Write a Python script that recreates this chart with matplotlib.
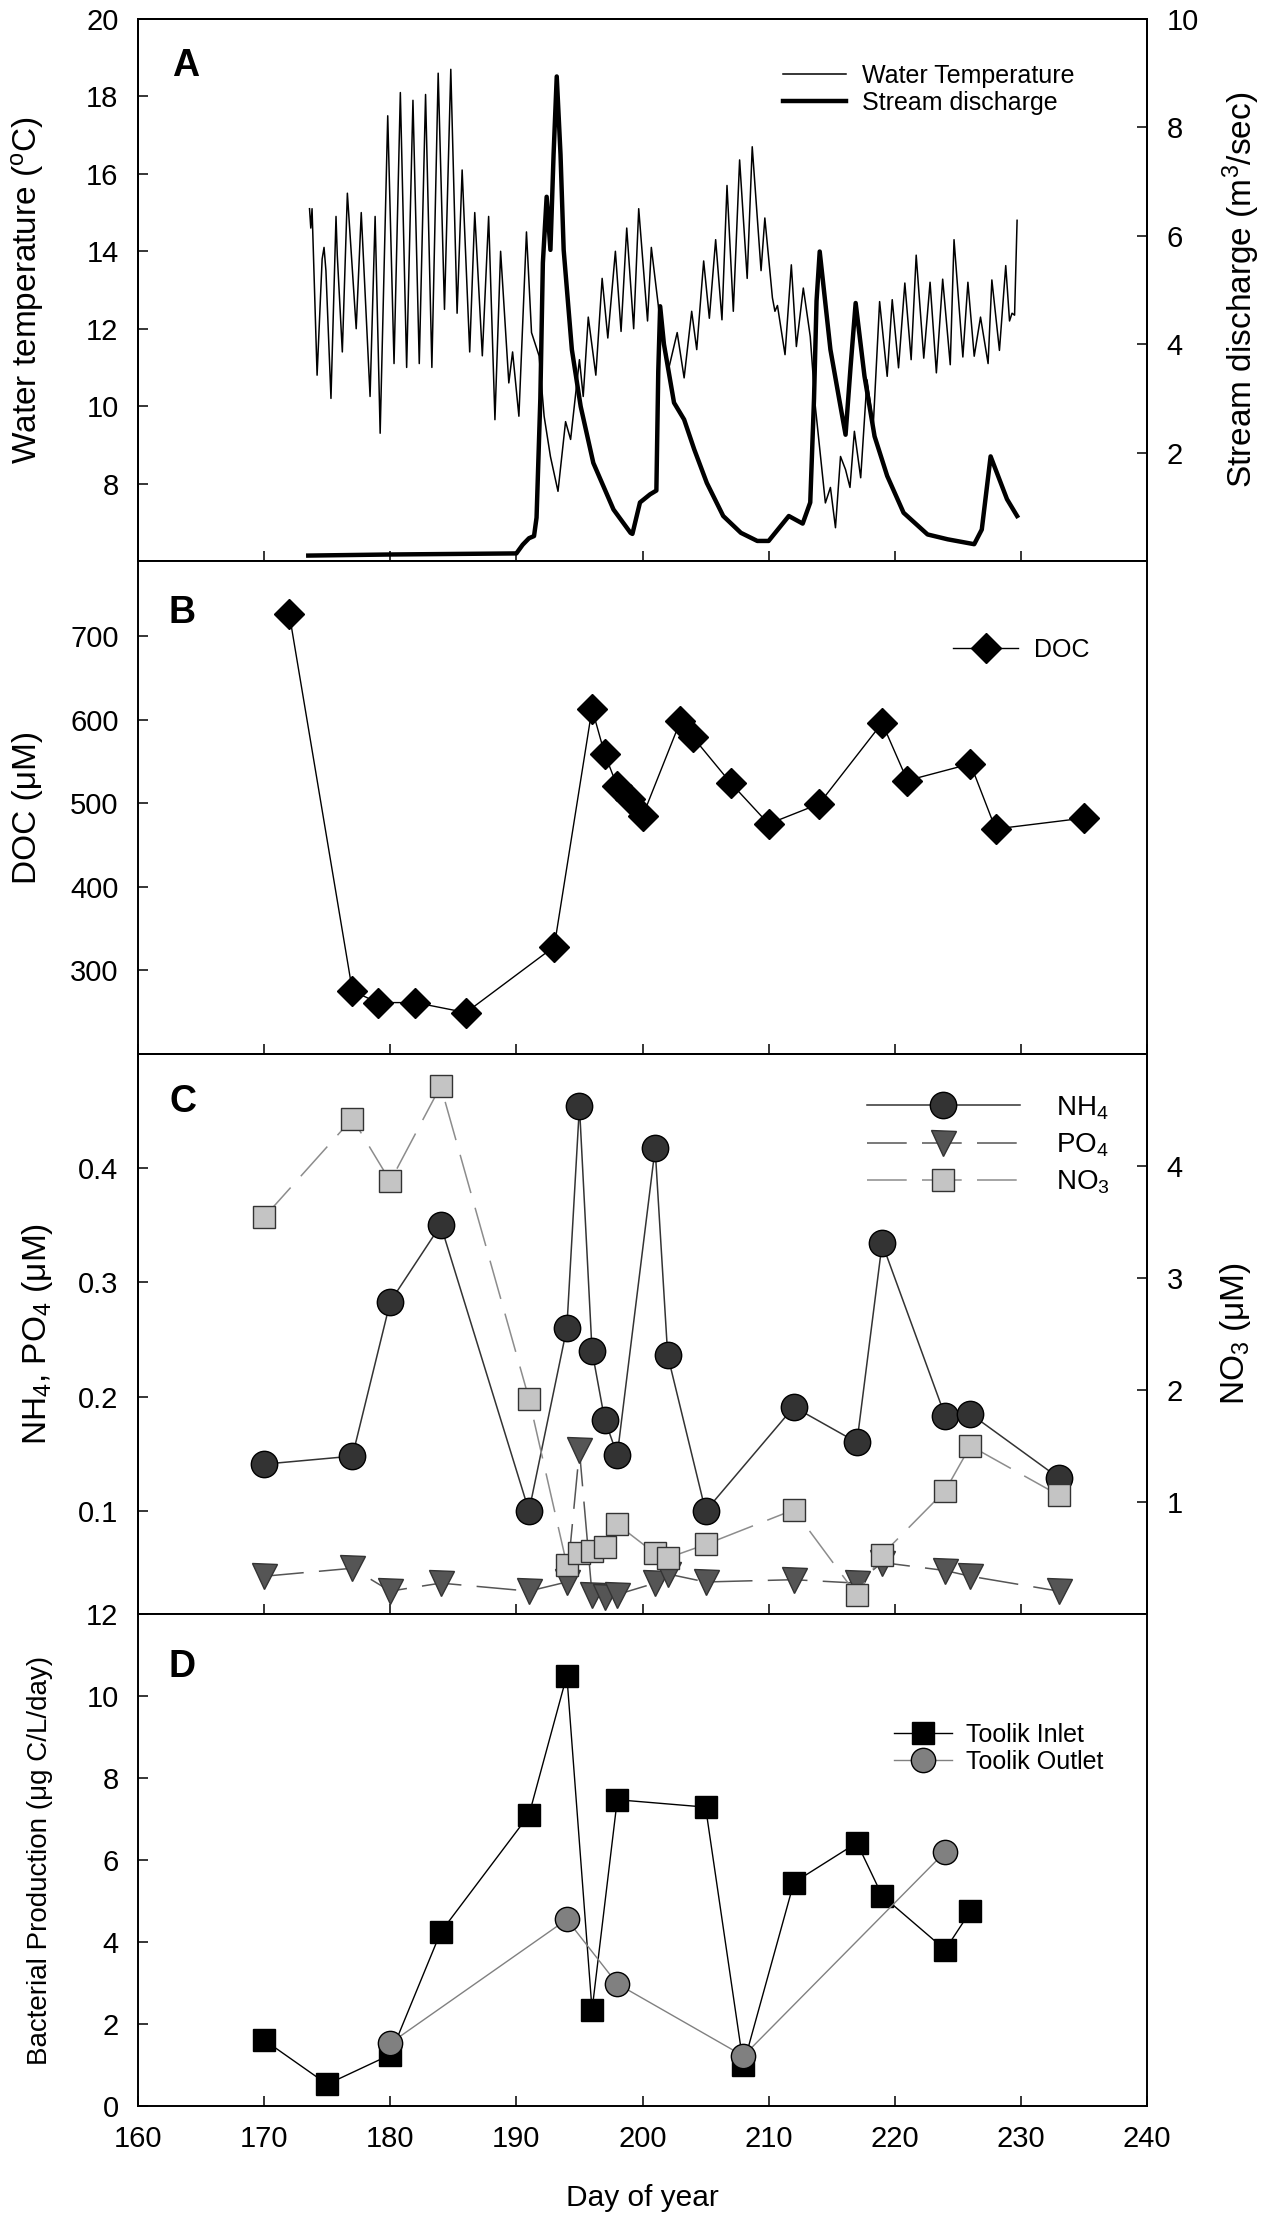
import numpy as np
import matplotlib
matplotlib.use('Agg')
import matplotlib.pyplot as plt

plt.rcParams['font.family'] = ['Liberation Sans', 'DejaVu Sans']
plt.rcParams['mathtext.fontset'] = 'custom'
plt.rcParams['mathtext.rm'] = 'Liberation Sans'
plt.rcParams['mathtext.it'] = 'Liberation Sans:italic'
plt.rcParams['mathtext.bf'] = 'Liberation Sans:bold'

# ---- panel A: water temperature (daily highs / lows) ----
temp_day = [173.6, 173.7, 173.8, 174.2, 174.6, 174.75, 174.9, 175.3, 175.7, 175.8,
            176.2, 176.6, 177.3, 177.7, 178.4, 178.8, 179.2, 179.8, 180.3, 180.8,
            181.3, 181.8, 182.3, 182.8, 183.3, 183.8, 184.3, 184.8, 185.3, 185.7,
            186.3, 186.7, 187.3, 187.8, 188.3, 188.75, 189.4, 189.7, 190.2, 190.8,
            191.2, 191.8, 192.2, 192.7, 193.3, 193.9, 194.3, 195.0, 195.3, 195.7,
            196.3, 196.8, 197.25, 197.85, 198.3, 198.75, 199.3, 199.7, 200.4, 200.7,
            201.4, 202.1, 202.75, 203.3, 203.9, 204.3, 204.85, 205.3, 205.8, 206.3,
            206.7, 207.2, 207.7, 208.3, 208.7, 209.4, 209.7, 210.3, 210.5, 210.7,
            211.3, 211.8, 212.2, 212.75, 212.95, 213.3, 213.7, 214.5, 214.9, 215.3,
            215.7, 216.1, 216.45, 216.8, 217.3, 217.8, 218.3, 218.8, 219.4, 219.8,
            220.3, 220.8, 221.3, 221.7, 222.3, 222.8, 223.3, 223.8, 224.4, 224.7,
            225.4, 225.8, 226.3, 226.8, 227.4, 227.7, 228.3, 228.8, 229.1, 229.3,
            229.5, 229.7]
temp_val = [15.1, 14.6, 15.1, 10.8, 13.8, 14.1, 13.5, 10.2, 14.9, 13.9,
            11.4, 15.5, 12.0, 15.0, 10.25, 14.9, 9.3, 17.5, 11.1, 18.1,
            11.0, 17.9, 11.1, 18.05, 11.0, 18.6, 12.5, 18.7, 12.4, 16.1,
            11.4, 15.0, 11.3, 14.9, 9.65, 14.0, 10.6, 11.4, 9.74, 14.5,
            11.9, 11.3, 9.74, 8.7, 7.8, 9.6, 9.14, 11.2, 10.25, 12.3,
            10.8, 13.3, 11.76, 14.0, 11.93, 14.6, 12.0, 15.1, 12.2, 14.1,
            12.2, 11.0, 11.9, 10.73, 12.45, 11.46, 13.75, 12.27, 14.3, 12.23,
            15.7, 12.45, 16.36, 13.3, 16.7, 13.5, 14.86, 12.8, 12.45, 12.6,
            11.33, 13.65, 11.54, 13.05, 12.6, 11.8, 10.0, 7.5, 7.9, 6.86,
            8.7, 8.36, 7.9, 9.35, 8.15, 10.68, 9.52, 12.7, 10.77, 12.75,
            10.99, 13.18, 11.2, 13.9, 11.24, 13.2, 10.86, 13.28, 11.07, 14.3,
            11.27, 13.2, 11.29, 12.3, 11.1, 13.26, 11.44, 13.63, 12.2, 12.4,
            12.35, 14.8]

# ---- panel A: stream discharge ----
q_day = [173.5, 180.0, 185.0, 190.0, 190.5, 191.0, 191.4, 191.6, 191.9, 192.1,
         192.4, 192.7, 192.95, 193.2, 193.5, 193.75, 194.4, 195.1, 196.1, 197.7,
         199.05, 199.2, 199.8, 200.6, 201.1, 201.25, 201.4, 201.7, 202.5, 203.3,
         204.1, 205.1, 206.4, 207.8, 209.1, 210.0, 210.8, 211.6, 212.7, 213.3,
         213.6, 213.8, 214.05, 214.9, 215.6, 216.1, 216.5, 216.9, 217.6, 218.4,
         219.4, 220.7, 222.6, 224.2, 226.3, 226.9, 227.6, 228.9, 229.7]
q_val = [0.10, 0.12, 0.13, 0.14, 0.30, 0.42, 0.46, 0.80, 3.0, 5.5,
         6.72, 5.74, 7.5, 8.94, 7.5, 5.74, 3.90, 2.85, 1.81, 0.95,
         0.52, 0.50, 1.08, 1.23, 1.30, 3.5, 4.70, 4.0, 2.92, 2.61,
         2.06, 1.44, 0.83, 0.52, 0.37, 0.37, 0.60, 0.83, 0.69, 1.08,
         3.0, 4.8, 5.71, 3.90, 2.98, 2.33, 3.59, 4.76, 3.41, 2.30,
         1.57, 0.89, 0.49, 0.40, 0.31, 0.58, 1.93, 1.14, 0.83]

# ---- panel B: DOC ----
doc_day = [172, 177, 179, 182, 186, 193, 196, 197, 198, 199, 200, 203, 204,
           207, 210, 214, 219, 221, 226, 228, 235]
doc_val = [726, 275, 261, 261, 249, 328, 613, 559, 520, 505, 484, 598, 579,
           524, 475, 499, 596, 527, 547, 469, 482]

# ---- panel C: nutrients ----
nut_day = [170, 177, 180, 184, 191, 194, 195, 196, 197, 198, 201, 202, 205,
           212, 217, 219, 224, 226, 233]
nh4 = [0.141, 0.148, 0.283, 0.350, 0.100, 0.260, 0.454, 0.240, 0.180, 0.149,
       0.417, 0.236, 0.100, 0.191, 0.160, 0.334, 0.183, 0.185, 0.129]
po4 = [0.043, 0.050, 0.030, 0.037, 0.030, 0.038, 0.153, 0.027, 0.025, 0.027,
       0.037, 0.045, 0.038, 0.040, 0.037, 0.055, 0.048, 0.043, 0.030]
no3 = [3.54, 4.42, 3.86, 4.71, 1.92, 0.44, 0.54, 0.56, 0.60, 0.80,
       0.54, 0.50, 0.62, 0.93, 0.17, 0.53, 1.10, 1.50, 1.06]

# ---- panel D: bacterial production ----
inlet_day = [170, 175, 180, 184, 191, 194, 196, 198, 205, 208, 212, 217, 219, 224, 226]
inlet_bp = [1.61, 0.53, 1.25, 4.24, 7.10, 10.5, 2.34, 7.47, 7.29, 1.0, 5.45, 6.42, 5.13, 3.81, 4.75]
outlet_day = [180, 194, 198, 208, 224]
outlet_bp = [1.53, 4.55, 2.98, 1.22, 6.20]

W, H = 1266, 2222
fig = plt.figure(figsize=(W / 100, H / 100), dpi=100)


def box(top, bottom):
    return [138 / W, 1 - bottom / H, (1147 - 138) / W, (bottom - top) / H]


def style(ax, labelbottom=False):
    ax.set_xlim(160, 240)
    ax.set_xticks(np.arange(160, 241, 10))
    ax.tick_params(direction='in', length=7, width=1.1, labelsize=21, pad=14)
    ax.tick_params(axis='x', labelbottom=labelbottom, top=False)
    for s in ax.spines.values():
        s.set_linewidth(1.4)


def fig_pt(x, y):
    return (x / W, 1 - y / H)


LAB = 24

# ---------------- A ----------------
axA = fig.add_axes(box(19, 561))
axA2 = axA.twinx()
style(axA)
style(axA2)
l1, = axA.plot(temp_day, temp_val, color='black', lw=1.1)
l2, = axA2.plot(q_day, q_val, color='black', lw=3.2)
axA.set_ylim(6, 20)
axA.set_yticks(np.arange(8, 21, 2))
axA2.set_ylim(0, 10)
axA2.set_yticks(np.arange(2, 11, 2))
axA.set_ylabel('Water temperature ($^{\\mathregular{o}}$C)', fontsize=LAB, va='center')
axA.yaxis.set_label_coords(-0.11, 0.5)
axA2.set_ylabel('Stream discharge (m$^{\\mathregular{3}}$/sec)', fontsize=LAB, va='center')
axA2.yaxis.set_label_coords(1.093, 0.5)
axA2.legend([l1, l2], ['Water Temperature', 'Stream discharge'], loc='center left',
            bbox_to_anchor=fig_pt(783, 89.5), bbox_transform=fig.transFigure,
            frameon=False, fontsize=18, handlelength=2.5, handletextpad=0.64,
            borderpad=0, borderaxespad=0, labelspacing=0.12)

# ---------------- B ----------------
axB = fig.add_axes(box(561, 1053.5))
style(axB)
axB.plot(doc_day, doc_val, color='black', lw=1.0, marker='D', ms=15,
         mfc='black', mec='black', label='DOC')
axB.set_ylim(200, 790)
axB.set_yticks(np.arange(300, 701, 100))
axB.set_ylabel('DOC (μM)', fontsize=LAB, va='center')
axB.yaxis.set_label_coords(-0.11, 0.5)
axB.legend(loc='center left', bbox_to_anchor=fig_pt(953, 650),
           bbox_transform=fig.transFigure, frameon=False, fontsize=18,
           handlelength=2.6, handletextpad=0.64, borderpad=0, borderaxespad=0,
           numpoints=1)

# ---------------- C ----------------
axC = fig.add_axes(box(1053.5, 1614))
axC2 = axC.twinx()
style(axC)
style(axC2)
h1, = axC.plot(nut_day, nh4, color='#333333', lw=1.1, marker='o', ms=19,
               mfc='#333333', mec='black', mew=1.0)
h2, = axC.plot(nut_day, po4, color='#555555', lw=1.1, ls=(0, (26, 10)), marker='v',
               ms=18, mfc='#555555', mec='#333333', mew=1.0)
h3, = axC2.plot(nut_day, no3, color='#8c8c8c', lw=1.1, ls=(0, (26, 10)), marker='s',
                ms=16.5, mfc='#c4c4c4', mec='#333333', mew=1.0)
axC.set_ylim(0.01, 0.5)
axC.set_yticks([0.1, 0.2, 0.3, 0.4])
axC2.set_ylim(0, 5)
axC2.set_yticks([1, 2, 3, 4])
axC.set_ylabel('NH$_{\\mathregular{4}}$, PO$_{\\mathregular{4}}$ (μM)', fontsize=LAB, va='center')
axC.yaxis.set_label_coords(-0.1, 0.5)
axC2.set_ylabel('NO$_{\\mathregular{3}}$ (μM)', fontsize=LAB, va='center')
axC2.yaxis.set_label_coords(1.088, 0.5)
axC2.legend([h1, h2, h3], ['NH$_{\\mathregular{4}}$', 'PO$_{\\mathregular{4}}$', 'NO$_{\\mathregular{3}}$'],
            loc='center left', bbox_to_anchor=fig_pt(867, 1145),
            bbox_transform=fig.transFigure, frameon=False, fontsize=20,
            handlelength=5.5, handletextpad=1.3, borderpad=0, borderaxespad=0,
            labelspacing=0.35, numpoints=1)

# ---------------- D ----------------
axD = fig.add_axes(box(1614, 2106))
style(axD, labelbottom=True)
axD.plot(inlet_day, inlet_bp, color='black', lw=1.0, marker='s', ms=15.5,
         mfc='black', mec='black', label='Toolik Inlet')
axD.plot(outlet_day, outlet_bp, color='#808080', lw=1.0, marker='o', ms=17.5,
         mfc='#808080', mec='black', mew=1.0, label='Toolik Outlet')
axD.set_ylim(0, 12)
axD.set_yticks(np.arange(0, 13, 2))
axD.set_ylabel('Bacterial Production (μg C/L/day)', fontsize=20, va='center')
axD.yaxis.set_label_coords(-0.097, 0.5)
axD.set_xlabel('Day of year', fontsize=21.5, va='center')
axD.xaxis.set_label_coords(0.5, -0.187)
axD.legend(loc='center left', bbox_to_anchor=fig_pt(894, 1748.5),
           bbox_transform=fig.transFigure, frameon=False, fontsize=18,
           handlelength=2.3, handletextpad=0.6, borderpad=0, borderaxespad=0,
           labelspacing=0.12, numpoints=1)

# panel letters
for letter, (px, py) in zip('ABCD', [(186, 66), (182, 613), (183, 1102), (182, 1667)]):
    fig.text(*fig_pt(px, py), letter, fontsize=27, fontweight='bold',
             ha='center', va='center')

fig.savefig('out.png', dpi=100, facecolor='white')
